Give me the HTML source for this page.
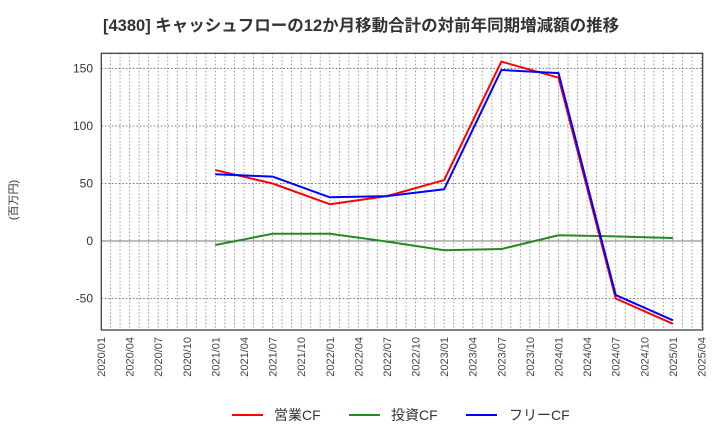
<!DOCTYPE html>
<html><head><meta charset="utf-8"><style>
body{margin:0;background:#fff;width:720px;height:440px;overflow:hidden}
text{font-family:"Liberation Sans","Noto Sans CJK JP",sans-serif}
</style></head><body>
<svg id="chart" width="720" height="440" xmlns="http://www.w3.org/2000/svg">
<text x="103" y="31" font-size="16.5" font-weight="bold" fill="#333">[4380]  キャッシュフローの12か月移動合計の対前年同期増減額の推移</text>
<text transform="translate(17,200) rotate(-90)" font-size="11" fill="#333" text-anchor="middle">(百万円)</text>
<g id="grid"></g><g id="axes"></g><g id="series"></g>
<g>
<line x1="232" y1="415" x2="263" y2="415" stroke="#f00" stroke-width="2"/>
<text x="274" y="420" font-size="14" fill="#333">営業CF</text>
<line x1="349" y1="415" x2="380" y2="415" stroke="#228b22" stroke-width="2"/>
<text x="391" y="420" font-size="14" fill="#333">投資CF</text>
<line x1="466" y1="415" x2="497" y2="415" stroke="#00f" stroke-width="2"/>
<text x="509" y="420" font-size="14" fill="#333">フリーCF</text>
</g>
</svg>
<script>
const xLabels=["2020/01","2020/04","2020/07","2020/10","2021/01","2021/04","2021/07","2021/10","2022/01","2022/04","2022/07","2022/10","2023/01","2023/04","2023/07","2023/10","2024/01","2024/04","2024/07","2024/10","2025/01","2025/04"];
const yTicks=[-50,0,50,100,150];
const dates=["2021/01","2021/07","2022/01","2022/07","2023/01","2023/07","2024/01","2024/07","2025/01"];
const operatingCF=[61.7,50,32,39,53,156,142,-50,-72];
const investingCF=[-3.5,6.3,6.3,-0.5,-8,-7,5,4,2.6];
const freeCF=[58,56,38,39,45,148.7,146,-47,-69];
const L=101.3,R=702.7,T=53.3,B=330;
const months=d=>{const[a,b]=d.split('/').map(Number);return (a-2020)*12+(b-1);};
const X=d=>101+months(d)*(600.5/63);
const Y=v=>241-v*1.15;
const NS="http://www.w3.org/2000/svg";
function mk(p,t,a){const e=document.createElementNS(NS,t);for(const k in a)e.setAttribute(k,a[k]);p.appendChild(e);return e;}
const g=document.getElementById('grid'),ax=document.getElementById('axes'),s=document.getElementById('series');
for(let m=1;m<=63;m++){const x=101+m*(600.5/63);if(x<R-0.5){const l=mk(g,'line',{x1:x,y1:T,x2:x,y2:B,stroke:'#999','stroke-dasharray':'1.5,2','stroke-width':1});

}}
yTicks.forEach(v=>{const y=Y(v);const l=mk(g,'line',{x1:L,y1:y,x2:R,y2:y,stroke:'#777','stroke-dasharray':v===0?'none':'1.5,2','stroke-width':1});


const t=mk(ax,'text',{x:93,y:y+4,'font-size':12,fill:'#333','text-anchor':'end'});t.textContent=String(v);

});
const fr=mk(ax,'rect',{x:L,y:T,width:R-L,height:B-T,fill:'none',stroke:'#333','stroke-width':1.2});


xLabels.forEach(d=>{const x=X(d);const t=mk(ax,'text',{transform:`translate(${x+4},${B+7}) rotate(-90)`,'font-size':11,fill:'#444','text-anchor':'end'});t.textContent=d;

});
[[investingCF,'#228b22','investing-cf-line'],[operatingCF,'#f00','operating-cf-line'],[freeCF,'#00f','free-cf-line']].forEach(([arr,c,n])=>{
const p=mk(s,'polyline',{points:arr.map((v,i)=>X(dates[i])+','+Y(v)).join(' '),fill:'none',stroke:c,'stroke-width':2,'stroke-linejoin':'round'});

});
</script>
</body></html>
